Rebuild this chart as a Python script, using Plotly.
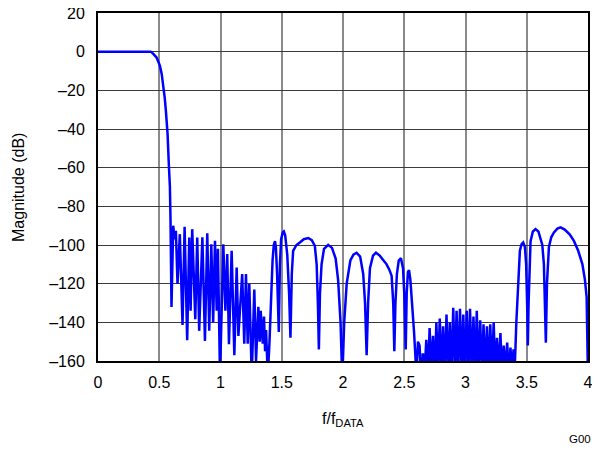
import plotly.graph_objects as go

# ---- data (f/fDATA, magnitude dB) ----
pass_f = [0, 0.1, 0.2, 0.3, 0.4, 0.43, 0.44, 0.46, 0.477, 0.49, 0.505, 0.52, 0.532, 0.545,
          0.554, 0.568, 0.578, 0.587, 0.592]
pass_db = [0, 0, 0, 0, 0, 0, -0.4, -1.5, -2.9, -4.8, -7.2, -11.5, -16.7, -24,
           -30.5, -42.6, -58, -70, -87.5]

stop1_f = [0.600, 0.614, 0.625, 0.636, 0.649, 0.668, 0.690, 0.707, 0.728, 0.745, 0.756, 0.769,
           0.794, 0.810, 0.826, 0.852, 0.873, 0.892, 0.908, 0.925, 0.940, 0.955, 0.969, 0.979,
           0.996, 1.023, 1.040, 1.055, 1.069, 1.091, 1.113, 1.132, 1.146, 1.177, 1.194, 1.208,
           1.222, 1.235, 1.255, 1.276, 1.290, 1.309, 1.320, 1.328, 1.345, 1.355, 1.364, 1.372,
           1.386]
stop1_db = [-132, -90, -97, -92.6, -120.2, -94.4, -141.3, -90.6, -149.2, -96.1, -134, -91.8,
            -138.4, -96.1, -144.4, -96, -149.6, -94, -144.4, -99.6, -140, -97.8, -134, -102,
            -168, -99.6, -134, -104.7, -151.3, -103, -157, -111.6, -147, -115, -151, -115,
            -151, -120, -168, -123, -160, -132, -150, -134, -151, -137, -155, -144,
            -168]

mid_f = [1.400, 1.414, 1.425, 1.435, 1.445, 1.452, 1.462, 1.476, 1.485, 1.495, 1.508, 1.517,
         1.528, 1.545, 1.560, 1.571, 1.582, 1.593, 1.620, 1.648, 1.680, 1.716, 1.745, 1.770,
         1.785, 1.795, 1.803, 1.812, 1.825, 1.845, 1.879, 1.910, 1.940, 1.960, 1.980, 1.994,
         2.010, 2.030, 2.060, 2.085, 2.111, 2.140, 2.165, 2.180, 2.193, 2.205, 2.220, 2.245,
         2.269, 2.300, 2.330, 2.356, 2.380, 2.397, 2.410, 2.419, 2.428, 2.440, 2.455, 2.473,
         2.490, 2.500, 2.512, 2.520, 2.530, 2.539, 2.550, 2.565, 2.580, 2.600]
mid_db = [-150, -125, -108, -100, -98, -101, -115, -145, -110, -97, -93.5, -93,
          -95, -105, -125, -148, -115, -103, -100, -98.7, -97, -96.4, -97.5, -100.4,
          -110, -130, -154, -125, -110, -102, -99.9, -101.5, -107, -118, -140, -170,
          -140, -120, -108, -105, -104, -106, -115, -130, -157, -130, -112, -105.5,
          -104, -105.5, -108, -110, -113, -116, -130, -155, -130, -115, -108, -106.8,
          -112, -125, -154, -125, -114, -113, -118, -130, -145, -168]

dense_f = [2.612, 2.625, 2.638, 2.652, 2.666, 2.680, 2.694, 2.707, 2.721, 2.735, 2.749, 2.762,
           2.776, 2.790, 2.804, 2.817, 2.831, 2.845, 2.859, 2.872, 2.886, 2.900, 2.914, 2.927,
           2.941, 2.955, 2.969, 2.982, 2.996, 3.010, 3.024, 3.037, 3.051, 3.065, 3.079, 3.092,
           3.106, 3.120, 3.134, 3.147, 3.161, 3.175, 3.189, 3.202, 3.216, 3.230, 3.244, 3.257,
           3.271, 3.285, 3.299, 3.312, 3.326, 3.340, 3.354, 3.367, 3.380, 3.392, 3.403]
dense_db = [-150, -152, -168, -156, -166, -149, -168, -143, -165, -147, -168, -140,
            -166, -138, -168, -142, -166, -136, -168, -140, -166, -132.5, -168, -134,
            -166, -133, -168, -136, -166, -134, -168, -133, -166, -137, -168, -134,
            -166, -139, -168, -141, -166, -142, -168, -141, -166, -140, -168, -148,
            -166, -145.5, -168, -152, -166, -150.5, -168, -153, -166, -154, -162]

image_f = [3.415, 3.428, 3.444, 3.458, 3.471, 3.485, 3.495, 3.503, 3.509, 3.515, 3.522, 3.531,
           3.550, 3.572, 3.595, 3.615, 3.627, 3.640, 3.656, 3.665, 3.681, 3.700, 3.722, 3.750,
           3.776, 3.810, 3.850, 3.885, 3.920, 3.954, 3.975, 3.989, 3.995, 4.0]
image_db = [-140, -122, -103, -99.5, -98.7, -101, -110, -130, -152, -130, -110, -98,
            -93, -91.8, -93, -97, -100, -110, -150.5, -120, -101, -96, -93.5, -91.5,
            -90.9, -92, -94.5, -97.9, -103, -109.9, -118, -127, -145, -170]

freq = pass_f + stop1_f + mid_f + dense_f + image_f
mag = pass_db + stop1_db + mid_db + dense_db + image_db

x_ticks = [0, 0.5, 1, 1.5, 2, 2.5, 3, 3.5, 4]
x_labels = ["0", "0.5", "1", "1.5", "2", "2.5", "3", "3.5", "4"]
y_ticks = [20, 0, -20, -40, -60, -80, -100, -120, -140, -160]
y_labels = ["20", "0", "–20", "–40", "–60", "–80", "–100", "–120", "–140", "–160"]

FONT = "Liberation Sans, Arial, sans-serif"

fig = go.Figure()
fig.add_trace(go.Scatter(x=freq, y=mag, mode="lines",
                         line=dict(color="#0000FF", width=2.5), showlegend=False))

fig.update_layout(
    width=592, height=442,
    margin=dict(l=90, r=12, t=5, b=89, autoexpand=False),
    paper_bgcolor="white", plot_bgcolor="white",
    font=dict(family=FONT, size=16, color="black"),
)
fig.update_xaxes(range=[0, 4], tickvals=x_ticks, ticktext=x_labels,
                 showgrid=True, gridcolor="#8a8a8a", gridwidth=1.5,
                 showline=True, linecolor="black", linewidth=2, mirror=True,
                 ticks="", zeroline=False, automargin=False, ticklabelstandoff=6,
                 ticklabeloverflow="allow")
fig.update_yaxes(range=[-160, 20], tickvals=y_ticks, ticktext=y_labels,
                 showgrid=True, gridcolor="#3a3a3a", gridwidth=1.2,
                 showline=True, linecolor="black", linewidth=2, mirror=True,
                 ticks="", zeroline=False, automargin=False, ticklabelstandoff=8,
                 ticklabeloverflow="allow")
fig.add_annotation(text="Magnitude (dB)", xref="paper", yref="paper", x=-0.1633, y=0.5,
                   xanchor="center", yanchor="middle", textangle=-90, showarrow=False,
                   font=dict(size=16, family=FONT))
fig.add_annotation(text="f/f<sub>DATA</sub>", xref="paper", yref="paper", x=0.5, y=-0.1695,
                   xanchor="center", yanchor="middle", showarrow=False,
                   font=dict(size=16, family=FONT))
fig.add_annotation(text="G00", xref="paper", yref="paper", x=1.0102, y=-0.224,
                   xanchor="right", yanchor="middle", showarrow=False,
                   font=dict(size=11.5, family=FONT))

fig.write_html("out.html")
